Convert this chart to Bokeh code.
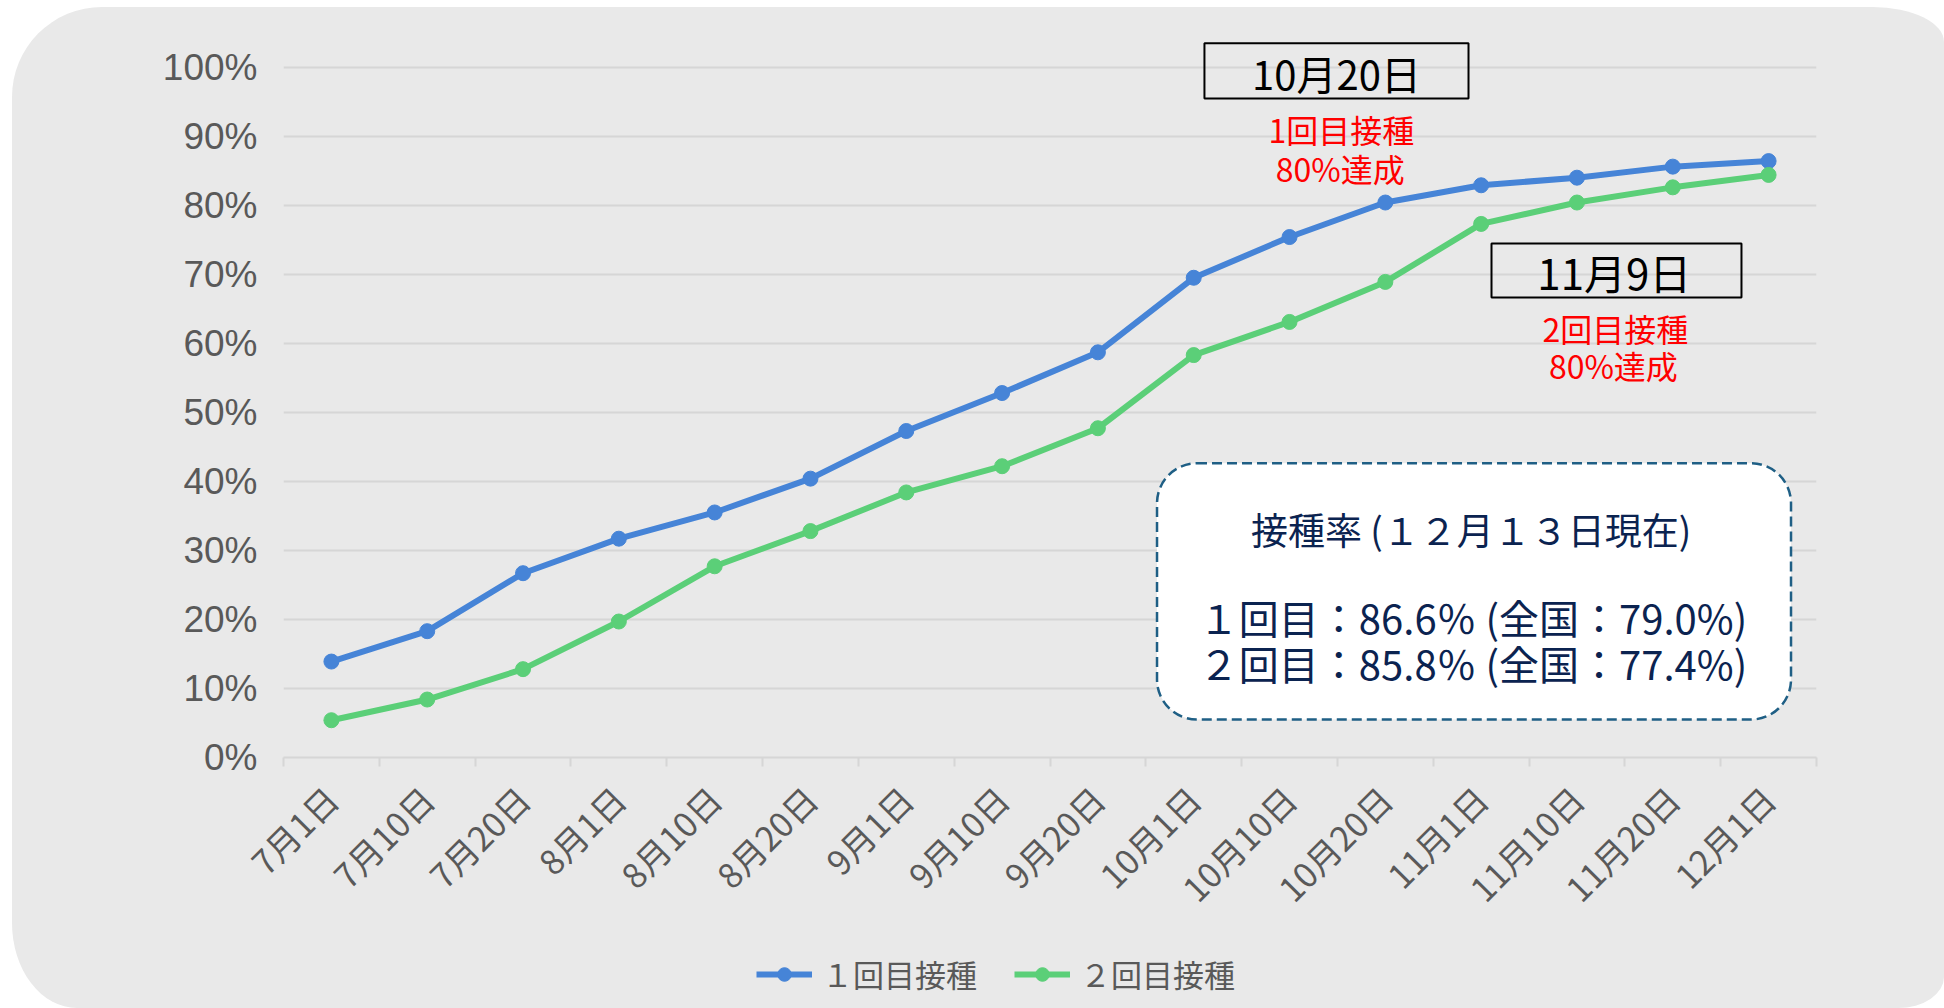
from bokeh.plotting import figure
from bokeh.models import (Range1d, FixedTicker, PrintfTickFormatter, Legend, LegendItem,
                          BoxAnnotation, Label)
from bokeh.layouts import column
from bokeh.embed import file_html
from bokeh.resources import INLINE
import numpy as np
import math

# ---------------- data ----------------
dates = ["7月1日", "7月10日", "7月20日", "8月1日", "8月10日", "8月20日",
         "9月1日", "9月10日", "9月20日", "10月1日", "10月10日", "10月20日",
         "11月1日", "11月10日", "11月20日", "12月1日"]
dose1 = [13.9, 18.3, 26.7, 31.7, 35.5, 40.4, 47.3, 52.8, 58.7, 69.5,
         75.4, 80.4, 82.9, 84.0, 85.6, 86.4]
dose2 = [5.4, 8.4, 12.8, 19.7, 27.7, 32.8, 38.4, 42.2, 47.7, 58.3,
         63.1, 68.9, 77.3, 80.4, 82.6, 84.4]
series_names = ["１回目接種", "２回目接種"]
y_ticks = [0, 10, 20, 30, 40, 50, 60, 70, 80, 90, 100]

BLUE = "#4684D7"
GREEN = "#5BCF78"
BG = "#E9E9E9"
GRID = "#D6D6D6"
TXT = "#595959"
NAVY = "#0B2350"
JP = "Noto Sans CJK JP"

n = len(dates)
xc = np.arange(n) + 0.5

# ---------------- main chart ----------------
p = figure(width=1932, height=930, output_backend="svg", toolbar_location=None,
           x_range=Range1d(0, n), y_range=Range1d(0, 107.06),
           min_border_left=271, min_border_right=128, min_border_top=11,
           min_border_bottom=180)
p.background_fill_color = None
p.border_fill_color = None
p.outline_line_color = None

# x axis: labels at category centres, ticks at category boundaries
p.xaxis.ticker = FixedTicker(ticks=list(xc), minor_ticks=list(range(n + 1)))
p.xaxis.major_label_overrides = {float(x): d for x, d in zip(xc, dates)}
p.xaxis.major_label_orientation = math.pi / 4
p.xaxis.major_tick_line_color = None
p.xaxis.major_tick_out = 0
p.xaxis.major_tick_in = 0
p.xaxis.minor_tick_line_color = GRID
p.xaxis.minor_tick_line_width = 2
p.xaxis.minor_tick_out = 9
p.xaxis.minor_tick_in = 0
p.xaxis.axis_line_color = GRID
p.xaxis.axis_line_width = 2
p.xaxis.major_label_text_font = JP
p.xaxis.major_label_text_font_size = "34px"
p.xaxis.major_label_text_color = TXT
p.xaxis.major_label_standoff = 26

# y axis
p.yaxis.ticker = FixedTicker(ticks=y_ticks)
p.yaxis.formatter = PrintfTickFormatter(format="%d%%")
p.yaxis.axis_line_color = None
p.yaxis.major_tick_line_color = None
p.yaxis.minor_tick_line_color = None
p.yaxis.major_tick_out = 0
p.yaxis.major_label_standoff = 26
p.yaxis.major_label_text_font = "Liberation Sans"
p.yaxis.major_label_text_font_size = "37px"
p.yaxis.major_label_text_color = TXT

p.xgrid.grid_line_color = None
p.ygrid.grid_line_color = GRID
p.ygrid.grid_line_width = 2

# series
p.line(xc, dose1, line_color=BLUE, line_width=6)
p.scatter(xc, dose1, size=15, fill_color=BLUE, line_color=BLUE)
p.line(xc, dose2, line_color=GREEN, line_width=6)
p.scatter(xc, dose2, size=15, fill_color=GREEN, line_color=GREEN)

# annotation boxes
p.add_layout(BoxAnnotation(left=9.612, right=12.368, top=103.48, bottom=95.47,
                           fill_alpha=0, line_color="black", line_alpha=1,
                           line_width=2, level="overlay"))
p.add_layout(BoxAnnotation(left=12.608, right=15.217, top=74.46, bottom=66.64,
                           fill_alpha=0, line_color="black", line_alpha=1,
                           line_width=2, level="overlay"))
p.add_layout(BoxAnnotation(left=9.117, right=15.734, top=42.63, bottom=5.50,
                           fill_color="white", fill_alpha=1, line_color="#1F5F85",
                           line_alpha=1, line_width=2.5, line_dash="10 5",
                           border_radius=40, level="overlay"))


def lab(x, y, text, size, color):
    p.add_layout(Label(x=x, y=y, text=text, text_font=JP, text_font_size=size,
                       text_color=color, text_align="center",
                       text_baseline="middle", level="overlay"))


lab(10.99, 99.23, "10月20日", "40px", "black")
lab(11.04, 91.12, "1回目接種", "32px", "#FF0000")
lab(11.03, 85.47, "80%達成", "32px", "#FF0000")
lab(13.89, 70.40, "11月9日", "42px", "black")
lab(13.90, 62.29, "2回目接種", "32px", "#FF0000")
lab(13.88, 56.79, "80%達成", "32px", "#FF0000")
lab(12.396, 33.17, "接種率 (１２月１３日現在)", "37px", NAVY)
lab(12.415, 20.32, "１回目：86.6％ (全国：79.0%)", "40px", NAVY)
lab(12.415, 13.62, "２回目：85.8％ (全国：77.4%)", "40px", NAVY)

# ---------------- legend strip ----------------
lf = figure(width=1932, height=71, output_backend="svg", toolbar_location=None,
            x_range=Range1d(1000, 1001), y_range=Range1d(1000, 1001),
            x_axis_type=None, y_axis_type=None,
            min_border_left=271, min_border_right=128, min_border_top=6,
            min_border_bottom=5)
lf.background_fill_color = None
lf.border_fill_color = None
lf.outline_line_color = None
lf.grid.grid_line_color = None

g1 = lf.line(xc, dose1, line_color=BLUE, line_width=6)
m1 = lf.scatter(xc, dose1, size=15, fill_color=BLUE, line_color=BLUE)
g2 = lf.line(xc, dose2, line_color=GREEN, line_width=6)
m2 = lf.scatter(xc, dose2, size=15, fill_color=GREEN, line_color=GREEN)

legend = Legend(items=[LegendItem(label=series_names[0], renderers=[g1, m1]),
                       LegendItem(label=series_names[1], renderers=[g2, m2])],
                location=(473, 7), orientation="horizontal",
                glyph_width=56, glyph_height=34, label_standoff=10, spacing=37,
                padding=0, margin=0,
                label_text_font=JP, label_text_font_size="31px",
                label_text_color=TXT, background_fill_alpha=0,
                border_line_alpha=0)
lf.add_layout(legend, "center")

layout = column(p, lf, spacing=0,
                styles={"margin-left": "12px", "margin-top": "7px",
                        "background-color": BG,
                        "border-radius": "90px 71px 46px 65px / 90px 35px 31px 85px",
                        "overflow": "hidden"})

open("out.html", "w").write(file_html(layout, INLINE))
